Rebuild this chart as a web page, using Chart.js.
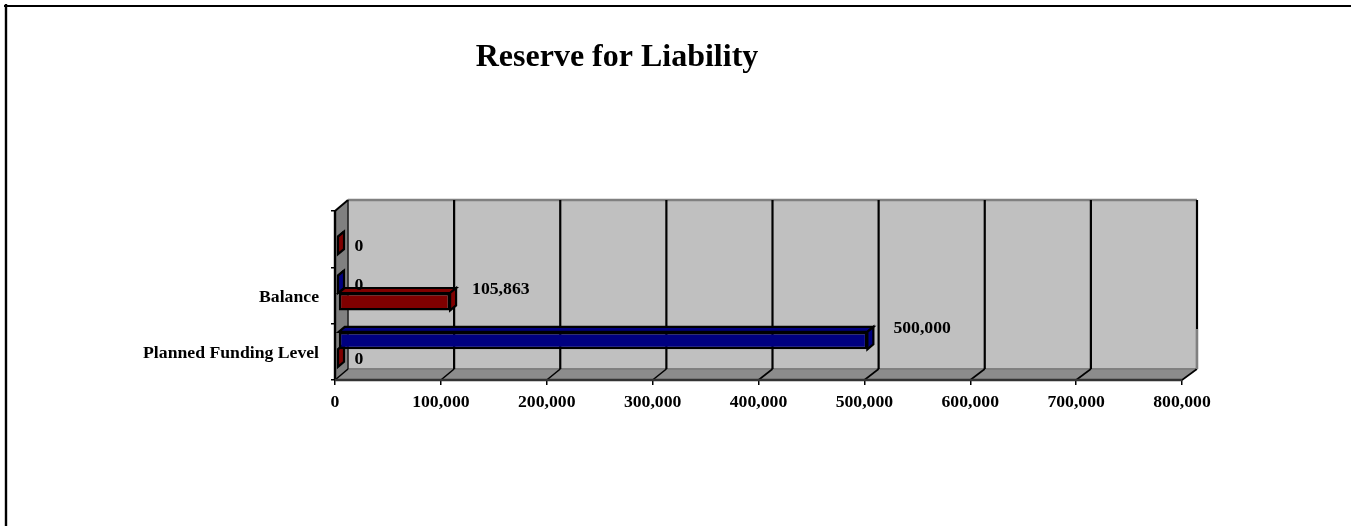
<!DOCTYPE html>
<html>
<head>
<meta charset="utf-8">
<style>
  html, body { margin: 0; padding: 0; background: #fff; }
  canvas { display: block; }
</style>
<script src="https://cdn.jsdelivr.net/npm/chart.js@4"></script>
</head>
<body>
<canvas id="chart" width="1351" height="526"></canvas>
<script>
const categories = ["", "Balance", "Planned Funding Level"];
const blueValues = [null, 0, 500000];
const redValues = [0, 105863, 0];
const xTicks = [0, 100000, 200000, 300000, 400000, 500000, 600000, 700000, 800000];

const FONT_SIZE = 17.7;
const FONT = "bold " + FONT_SIZE + "px 'Liberation Serif'";
const WALL_DX = 13, WALL_DY = -11;   // depth of the back wall
const BAR_DX = 3, BAR_DY = -2.5;     // bars sit partway into the depth
const BAR_DEPTH_X = 6, BAR_DEPTH_Y = -5;

function poly(ctx, pts, fill, stroke, lw) {
  ctx.beginPath();
  pts.forEach((p, i) => (i ? ctx.lineTo(p[0], p[1]) : ctx.moveTo(p[0], p[1])));
  ctx.closePath();
  if (fill) { ctx.fillStyle = fill; ctx.fill(); }
  if (stroke) { ctx.strokeStyle = stroke; ctx.lineWidth = lw; ctx.stroke(); }
}

function line(ctx, x1, y1, x2, y2, color, lw) {
  ctx.beginPath();
  ctx.moveTo(x1, y1);
  ctx.lineTo(x2, y2);
  ctx.strokeStyle = color;
  ctx.lineWidth = lw;
  ctx.stroke();
}

// Frame, title and the 3D walls behind the bars
const wallsPlugin = {
  id: "walls",
  beforeDatasetsDraw(chart) {
    const ctx = chart.ctx;
    const { left: l, right: r, top: t, bottom: b } = chart.chartArea;
    const dy = WALL_DY;
    // the back wall is a touch wider than the front edge
    const back = (x) => x + WALL_DX + ((x - l) / (r - l)) * 2;
    ctx.save();

    poly(ctx, [[back(l), t + dy], [back(r), t + dy], [back(r), b + dy], [back(l), b + dy]], "#C0C0C0");
    poly(ctx, [[l, t], [back(l), t + dy], [back(l), b + dy], [l, b]], "#808080");
    poly(ctx, [[l, b], [back(l), b + dy], [back(r), b + dy], [r, b]], "#8C8C8C");

    line(ctx, back(l), t + dy, back(r), t + dy, "#808080", 2.5);
    line(ctx, back(l), b + dy, back(r), b + dy, "#808080", 2);

    // grid lines run up the back wall and slant across the floor
    chart.scales.x.ticks.forEach((tick) => {
      const x = chart.scales.x.getPixelForValue(tick.value);
      if (tick.value > 0) {
        line(ctx, back(x), t + dy, back(x), b + dy, "#000", 2.2);
        line(ctx, x, b, back(x), b + dy, "#000", 1.6);
      }
    });
    line(ctx, back(r), b + dy, back(r), b + dy - 40, "#808080", 2.2);

    line(ctx, back(l), t + dy, back(l), b + dy, "#222", 1.6);
    line(ctx, l, t, back(l), t + dy, "#000", 2);
    line(ctx, l, b, back(l), b + dy, "#000", 1.6);
    line(ctx, l, t, l, b, "#000", 2.4);
    line(ctx, l, b, r, b, "#333", 2.4);

    // side and top faces, zero bars first so longer bars cover them
    const faces = [];
    chart.data.datasets.forEach((ds, di) => {
      chart.getDatasetMeta(di).data.forEach((bar, i) => {
        if (ds.data[i] !== null) faces.push({ bar, value: ds.data[i], ds });
      });
    });
    faces.sort((a, c) => (a.value > 0) - (c.value > 0));
    faces.forEach(({ bar, ds }) => {
      const x0 = bar.base + BAR_DX, x1 = bar.x + BAR_DX;
      const y0 = bar.y - bar.height / 2 + BAR_DY, y1 = bar.y + bar.height / 2 + BAR_DY;
      const ex = BAR_DEPTH_X, ey = BAR_DEPTH_Y;
      poly(ctx, [[x0, y0], [x0 + ex, y0 + ey], [x1 + ex, y0 + ey], [x1, y0]], ds.backgroundColor, "#000", 2.2);
      poly(ctx, [[x1, y0], [x1 + ex, y0 + ey], [x1 + ex, y1 + ey], [x1, y1]], ds.backgroundColor, "#000", 2.2);
    });

    // native bars are drawn next, shifted into the depth
    ctx.restore();
    ctx.save();
    ctx.translate(BAR_DX, BAR_DY);
  },
  afterDatasetsDraw(chart) {
    chart.ctx.restore();
  },
  afterDraw(chart) {
    const ctx = chart.ctx;
    ctx.save();
    ctx.fillStyle = "#000";
    ctx.font = FONT;
    ctx.textBaseline = "middle";
    chart.data.datasets.forEach((ds, di) => {
      chart.getDatasetMeta(di).data.forEach((bar, i) => {
        const v = ds.data[i];
        if (v === null) return;
        if (v === 0) {
          ctx.textAlign = "center";
          ctx.fillText("0", bar.x + 24, bar.y - 1);
        } else {
          ctx.textAlign = "left";
          ctx.fillText(v.toLocaleString("en-US"), bar.x + BAR_DX + (di === 0 ? 26 : 22), bar.y - 15);
        }
      });
    });
    ctx.font = "bold 32px 'Liberation Serif'";
    ctx.textAlign = "center";
    ctx.fillText("Reserve for Liability", 617, 58);

    // page frame, open on the right and at the bottom
    line(ctx, 4, 6, 1351, 6, "#000", 2);
    line(ctx, 6, 4, 6, 526, "#000", 2.4);
    ctx.restore();
  }
};

new Chart(document.getElementById("chart"), {
  type: "bar",
  plugins: [wallsPlugin],
  data: {
    labels: categories,
    datasets: [
      { label: "Planned", data: blueValues, backgroundColor: "#000080", borderColor: "#000", borderWidth: 2.5, borderSkipped: false },
      { label: "Actual", data: redValues, backgroundColor: "#800000", borderColor: "#000", borderWidth: 2.5, borderSkipped: false }
    ]
  },
  options: {
    indexAxis: "y",
    responsive: false,
    animation: false,
    events: [],
    layout: { padding: { left: 0, top: 211, right: 169, bottom: 86 } },
    plugins: { legend: { display: false }, tooltip: { enabled: false }, title: { display: false } },
    datasets: { bar: { categoryPercentage: 17.5 * 2 / 56.5, barPercentage: 1 } },
    scales: {
      x: {
        min: 0,
        max: 800000,
        afterBuildTicks(scale) { scale.ticks = xTicks.map((value) => ({ value })); },
        afterFit(scale) { scale.height = 60; },
        border: { display: false },
        grid: { drawOnChartArea: false, color: "#000", lineWidth: 1.5, tickLength: 5 },
        ticks: {
          maxRotation: 0,
          autoSkip: false,
          padding: 7,
          color: "#000",
          font: { family: "'Liberation Serif'", size: FONT_SIZE, weight: "bold" },
          callback: (v) => Number(v).toLocaleString("en-US")
        }
      },
      y: {
        afterFit(scale) { scale.width = 335; },
        border: { display: false },
        grid: { drawOnChartArea: false, color: "#000", lineWidth: 1.5, tickLength: 4 },
        ticks: {
          padding: 12,
          labelOffset: 2,
          color: "#000",
          font: { family: "'Liberation Serif'", size: FONT_SIZE, weight: "bold" }
        }
      }
    }
  }
});
</script>
</body>
</html>
